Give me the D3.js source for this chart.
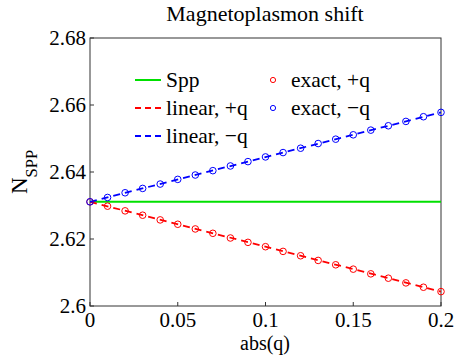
<!DOCTYPE html>
<html>
<head>
<meta charset="utf-8">
<script src="https://cdn.jsdelivr.net/npm/d3@7"></script>
<style>
  body { margin: 0; background: #fff; }
</style>
</head>
<body>
<script>
// wave-vector magnitude and effective index
const qExact = [0, 0.01, 0.02, 0.03, 0.04, 0.05, 0.06, 0.07, 0.08, 0.09, 0.1,
  0.11, 0.12, 0.13, 0.14, 0.15, 0.16, 0.17, 0.18, 0.19, 0.2]
const exactPlus = [2.6311, 2.6298, 2.6284, 2.6271, 2.6257, 2.6244, 2.6230, 2.6217, 2.6203, 2.6190, 2.6177,
  2.6163, 2.6150, 2.6136, 2.6123, 2.6110, 2.6096, 2.6083, 2.6069, 2.6056, 2.6043]
const exactMinus = [2.6311, 2.6324, 2.6338, 2.6351, 2.6364, 2.6378, 2.6391, 2.6404, 2.6418, 2.6431, 2.6445,
  2.6458, 2.6471, 2.6485, 2.6498, 2.6511, 2.6525, 2.6538, 2.6551, 2.6565, 2.6578]
const qLine = [0, 0.2]
const sppLine = [2.6311, 2.6311]
const linearPlus = [2.6311, 2.6043]
const linearMinus = [2.6311, 2.6578]
const xTicks = [0, 0.05, 0.1, 0.15, 0.2]
const yTicks = [2.6, 2.62, 2.64, 2.66, 2.68]

const width = 455
const height = 358
const pLeft = 90, pRight = 441, pTop = 38, pBottom = 306
const font = "Liberation Serif, Times New Roman, serif"
const axisColor = "#333"

const svg = d3.select("body").append("svg")
  .attr("width", width)
  .attr("height", height)
  .attr("font-family", font)

const x = d3.scaleLinear().domain([0, 0.2]).range([pLeft, pRight])
const y = d3.scaleLinear().domain([2.6, 2.68]).range([pBottom, pTop])

// box
svg.append("rect")
  .attr("x", pLeft).attr("y", pTop)
  .attr("width", pRight - pLeft).attr("height", pBottom - pTop)
  .attr("fill", "none").attr("stroke", axisColor).attr("stroke-width", 1)

// ticks point inward, bottom and left only
const tick = 4
const gx = svg.append("g")
gx.selectAll("line").data(xTicks).enter().append("line")
  .attr("x1", d => x(d)).attr("x2", d => x(d))
  .attr("y1", pBottom).attr("y2", pBottom - tick)
  .attr("stroke", axisColor)
gx.selectAll("text").data(xTicks).enter().append("text")
  .attr("x", d => x(d)).attr("y", 327)
  .attr("text-anchor", "middle")
  .attr("font-size", 21)
  .text(d => d)

const gy = svg.append("g")
gy.selectAll("line").data(yTicks).enter().append("line")
  .attr("x1", pLeft).attr("x2", pLeft + tick)
  .attr("y1", d => y(d)).attr("y2", d => y(d))
  .attr("stroke", axisColor)
gy.selectAll("text").data(yTicks).enter().append("text")
  .attr("x", 86).attr("y", d => y(d) + 7)
  .attr("text-anchor", "end")
  .attr("font-size", 21)
  .text(d => d)

// titles
svg.append("text")
  .attr("x", 265).attr("y", 21)
  .attr("text-anchor", "middle")
  .attr("font-size", 22)
  .text("Magnetoplasmon shift")

svg.append("text")
  .attr("x", 265).attr("y", 350)
  .attr("text-anchor", "middle")
  .attr("font-size", 20)
  .text("abs(q)")

const ylab = svg.append("text")
  .attr("transform", "translate(27," + ((pTop + pBottom) / 2) + ") rotate(-90)")
  .attr("text-anchor", "middle")
ylab.append("tspan").attr("font-size", 23).text("N")
ylab.append("tspan").attr("font-size", 16.5).attr("dy", 10).text("SPP")

// curves
const line = d3.line().x(d => x(d[0])).y(d => y(d[1]))

svg.append("path")
  .datum(d3.zip(qLine, sppLine))
  .attr("d", line)
  .attr("fill", "none").attr("stroke", "#00e000").attr("stroke-width", 2)

svg.append("path")
  .datum(d3.zip(qLine, linearPlus))
  .attr("d", line)
  .attr("fill", "none").attr("stroke", "#ff0000").attr("stroke-width", 1.8)
  .attr("stroke-dasharray", "7,5")

svg.append("path")
  .datum(d3.zip(qLine, linearMinus))
  .attr("d", line)
  .attr("fill", "none").attr("stroke", "#0000ff").attr("stroke-width", 1.8)
  .attr("stroke-dasharray", "7,5")

svg.selectAll("circle.plus")
  .data(d3.zip(qExact, exactPlus))
  .enter().append("circle")
  .attr("class", "plus")
  .attr("cx", d => x(d[0])).attr("cy", d => y(d[1]))
  .attr("r", 3.3)
  .attr("fill", "none").attr("stroke", "#ff0000").attr("stroke-width", 1)

svg.selectAll("circle.minus")
  .data(d3.zip(qExact, exactMinus))
  .enter().append("circle")
  .attr("class", "minus")
  .attr("cx", d => x(d[0])).attr("cy", d => y(d[1]))
  .attr("r", 3.3)
  .attr("fill", "none").attr("stroke", "#0000ff").attr("stroke-width", 1)

// legend
const legendLines = [["Spp", "#00e000", null, 2], ["linear, +q", "#ff0000", "6,4", 1.8], ["linear, \u2212q", "#0000ff", "6,4", 1.8]]
const legendDots = [["exact, +q", "#ff0000"], ["exact, \u2212q", "#0000ff"]]

const legend = svg.append("g")
legend.selectAll("line").data(legendLines).enter().append("line")
  .attr("x1", 135).attr("x2", 161)
  .attr("y1", (d, i) => 80 + i * 28).attr("y2", (d, i) => 80 + i * 28)
  .attr("stroke", d => d[1]).attr("stroke-width", d => d[3])
  .attr("stroke-dasharray", d => d[2])
legend.selectAll("text.l").data(legendLines).enter().append("text")
  .attr("x", 166).attr("y", (d, i) => 87 + i * 28)
  .attr("font-size", 21.5)
  .text(d => d[0])
legend.selectAll("circle").data(legendDots).enter().append("circle")
  .attr("cx", 273).attr("cy", (d, i) => 80 + i * 28)
  .attr("r", 2.6)
  .attr("fill", "none").attr("stroke", d => d[1]).attr("stroke-width", 1)
legend.selectAll("text.d").data(legendDots).enter().append("text")
  .attr("x", 291).attr("y", (d, i) => 87 + i * 28)
  .attr("font-size", 21.5)
  .text(d => d[0])
</script>
</body>
</html>
